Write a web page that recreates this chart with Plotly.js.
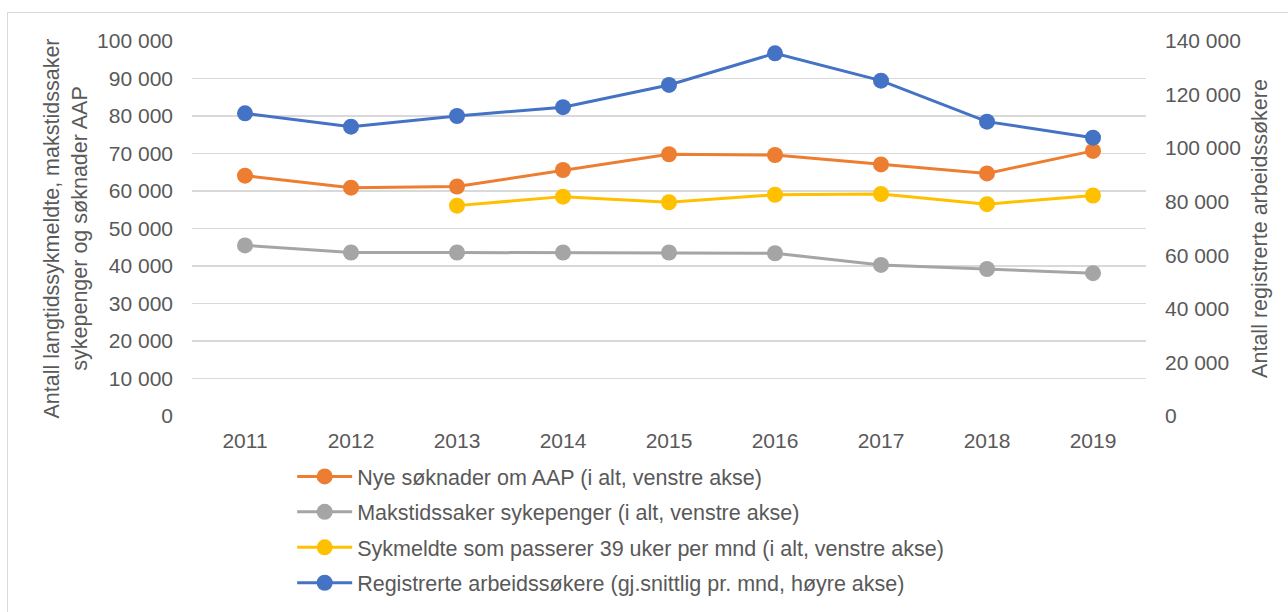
<!DOCTYPE html>
<html>
<head>
<meta charset="utf-8">
<script src="https://cdn.plot.ly/plotly-3.0.1.min.js"></script>
<style>
    body { margin: 0; background: #fff; }
    #wrap { position: relative; width: 1288px; height: 612px; overflow: hidden; }
    #frame { position: absolute; left: 7px; top: 12px; width: 1300px; height: 700px;
             border-left: 1px solid #d9d9d9; border-top: 1px solid #d9d9d9; pointer-events: none; }
    #plot { position: absolute; left: 0; top: 0; width: 1288px; height: 612px; }
</style>
</head>
<body>
<div id="wrap">
    <div id="plot"></div>
    <div id="frame"></div>
</div>
<script>
// Chart data
var years = ['2011', '2012', '2013', '2014', '2015', '2016', '2017', '2018', '2019'];
var aap = [64100, 60900, 61200, 65600, 69800, 69600, 67100, 64700, 70700];
var makstid = [45500, 43600, 43600, 43600, 43600, 43400, 40300, 39200, 38100];
var sykmeldte39 = [null, null, 56100, 58500, 57000, 59000, 59200, 56500, 58800];
var arbeidssokere = [113000, 108000, 112000, 115300, 123600, 135400, 125200, 109900, 103900];

var names = [
    'Nye søknader om AAP (i alt, venstre akse)',
    'Makstidssaker sykepenger (i alt, venstre akse)',
    'Sykmeldte som passerer 39 uker per mnd (i alt, venstre akse)',
    'Registrerte arbeidssøkere (gj.snittlig pr. mnd, høyre akse)'
];
var colors = ['#ED7D31', '#A5A5A5', '#FFC000', '#4472C4'];
var series = [aap, makstid, sykmeldte39, arbeidssokere];

var data = [];
for (var i = 0; i < series.length; i++) {
    data.push({
        x: years,
        y: series[i],
        type: 'scatter',
        mode: 'lines+markers',
        name: names[i],
        legendgroup: 'g' + i,
        yaxis: i === 3 ? 'y2' : 'y',
        line: { color: colors[i], width: 3 },
        marker: { color: colors[i], size: 16 },
        connectgaps: false
    });
}

var fam = 'Liberation Sans, Arial, sans-serif';
var tickFont = { family: fam, size: 21, color: '#595959' };
var titleFont = { family: fam, size: 21.5, color: '#595959' };
var legendFont = { family: fam, size: 21.5, color: '#595959' };

var layout = {
    width: 1288,
    height: 612,
    margin: { l: 192, r: 142, t: 41, b: 196 },
    paper_bgcolor: '#fff',
    plot_bgcolor: '#fff',
    separators: ', ',
    font: tickFont,
    showlegend: true,
    legend: {
        orientation: 'v',
        x: 0.105,
        xanchor: 'left',
        yref: 'container',
        y: 0.255,
        yanchor: 'top',
        font: legendFont,
        itemwidth: 55,
        tracegroupgap: 4.5,
        bgcolor: 'rgba(0,0,0,0)'
    },
    xaxis: {
        type: 'category',
        range: [-0.5, 8.5],
        automargin: false,
        showgrid: false,
        zeroline: false,
        showline: false,
        ticks: '',
        tickfont: tickFont,
        ticklabelstandoff: 10
    },
    yaxis: {
        range: [0, 100000],
        dtick: 10000,
        tickformat: ',d',
        automargin: false,
        showgrid: true,
        gridcolor: '#d9d9d9',
        gridwidth: 1.3,
        zeroline: false,
        showline: false,
        ticks: '',
        tickfont: tickFont,
        ticklabelstandoff: 18,
        title: {
            text: 'Antall langtidssykmeldte, makstidssaker<br>sykepenger og søknader AAP',
            font: titleFont,
            standoff: 3
        }
    },
    yaxis2: {
        overlaying: 'y',
        side: 'right',
        range: [0, 140000],
        dtick: 20000,
        tickformat: ',d',
        automargin: false,
        showgrid: false,
        zeroline: false,
        showline: false,
        ticks: '',
        tickfont: tickFont,
        ticklabelstandoff: 18,
        title: {
            text: 'Antall registrerte arbeidssøkere',
            font: titleFont,
            standoff: 12
        }
    }
};

Plotly.newPlot('plot', data, layout, { displayModeBar: false, staticPlot: true });
</script>
</body>
</html>
